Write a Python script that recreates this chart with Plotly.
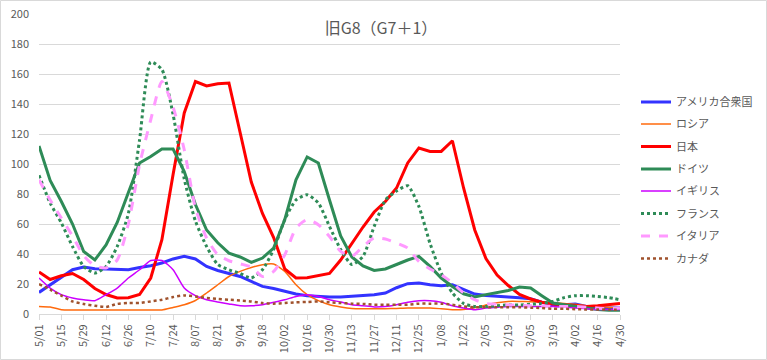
import plotly.graph_objects as go

dates = ["5/01","5/08","5/15","5/22","5/29","6/05","6/12","6/19","6/26","7/03","7/10","7/17","7/24","7/31",
         "8/07","8/14","8/21","8/28","9/04","9/11","9/18","9/25","10/02","10/09","10/16","10/23","10/30",
         "11/06","11/13","11/20","11/27","12/04","12/11","12/18","12/25","1/01","1/08","1/15","1/22","1/29",
         "2/05","2/12","2/19","2/26","3/05","3/12","3/19","3/26","4/02","4/09","4/16","4/23","4/30"]
tick_labels = dates[::2]

usa = [14.4, 19.5, 25, 29.5, 31.3, 30.2, 30, 29.5, 29.5, 31, 32.2, 34, 36.7, 38.4, 36.7, 31.7, 29, 27, 25, 21.7,
       18.4, 17, 15, 13.3, 12.2, 11.7, 11.3, 11.3, 11.7, 12, 12.9, 14, 17.5, 20.2, 20.7, 19.5, 18.9, 19.5, 16.2,
       13.3, 12.4, 11.7, 11.3, 10.9, 10.2, 7.8, 6.2, 6.2, 6.7, 5, 4.2, 4, 4]
russia = [5, 4.6, 2.9, 2.7, 2.7, 2.7, 2.7, 2.7, 2.7, 2.7, 2.7, 2.7, 4.4, 6.2, 9, 14, 19.5, 25, 28.4, 31, 32.9,
          33.3, 28.4, 19.5, 12.9, 8.9, 6.2, 4.7, 3.7, 3.5, 3.5, 3.5, 3.7, 4, 4, 4, 3.5, 2.9, 3, 4.2, 6, 7.5, 8.4,
          8.4, 8.2, 7.8, 7.5, 7, 6.5, 5.5, 5, 4.5, 4]
japan = [28, 23, 25.5, 27, 23, 17, 13, 10.7, 10.8, 13, 24, 49.5, 93, 134, 155, 152, 153.5, 154, 121, 88, 67,
         51, 30, 24, 24.2, 25.5, 27, 36, 47, 58, 68, 75, 84, 100.7, 110.7, 108.4, 108.4, 115.5, 84, 56, 37, 26,
         19, 13, 10, 7.8, 6.7, 6, 5.5, 5, 5.5, 6.5, 7]
germany = [112, 89, 75, 60, 41.7, 36, 46, 61, 81, 100.7, 105, 110, 110, 95, 73, 56, 47.5, 40.6, 38, 34.4, 37.3,
           44, 63, 89.5, 104.7, 100.7, 76, 52, 38, 32, 29, 30, 33, 36, 38.4, 31.7, 24, 18.4, 13.5, 11.3, 12.9,
           14.4, 15.7, 18, 17.3, 12.2, 7.3, 6.2, 5, 4, 3, 2.5, 2.5]
uk = [24, 17.3, 12.9, 10.7, 9.5, 8.9, 12.9, 17.3, 24, 29.5, 35.7, 35.7, 29.5, 17.3, 12.2, 9.5, 8, 6.7, 5.5, 5.5,
      6.2, 7.8, 9.5, 11.7, 12.9, 11.7, 9.5, 8, 6.2, 5.5, 4.7, 5, 6.2, 7.8, 8.9, 8.9, 7.8, 5.5, 4, 2.9, 4, 4.5, 5,
      5, 5, 5, 5, 4.5, 4, 3.5, 3, 3, 3]
france = [92.5, 74, 60.7, 45, 31.7, 27.3, 31.7, 45, 67, 116, 168, 163, 133, 90, 62, 45, 33, 29.5, 27, 24, 29.5,
          43, 63, 76, 79.5, 74, 58.4, 43, 33, 38.4, 58.4, 76, 82, 85.5, 71.7, 47, 27.3, 14, 7, 5, 5, 5.5, 6, 6,
          6.5, 7, 8.4, 10.9, 12.2, 12.2, 11.7, 10.9, 9.5]
italy = [89.5, 76, 64, 52, 39, 32, 30.7, 36, 60, 99.5, 129.5, 155, 138, 109.5, 70.7, 50.7, 39.5, 35.5, 33.5,
         31.3, 25, 28.4, 39.5, 57.3, 63, 59.5, 51.7, 41.7, 38.4, 45, 50.7, 50, 47.3, 44, 35, 30, 26.2, 20.7, 14,
         9.5, 7, 6.5, 6, 6, 5.5, 5.5, 5, 5, 5, 4.5, 4, 3.5, 4]
canada = [20, 16.2, 12.2, 8.4, 6.7, 5.5, 4.7, 6.7, 7.3, 7.3, 8.4, 9.5, 11.3, 12.4, 11.7, 10.7, 10, 9.5, 9, 8.4,
          7.3, 6.9, 7.3, 7.8, 8, 8.4, 7.8, 7.3, 6.9, 6.7, 6.2, 6.2, 6.2, 6.2, 6.9, 6.9, 6.9, 6.2, 5, 4.5, 4.5,
          4.5, 4.5, 4.5, 4.2, 4, 3.5, 3.5, 3.2, 3, 3, 2.9, 2.9]

series = [
    ("アメリカ合衆国", usa, dict(color="#3333FF", width=3), "linear"),
    ("ロシア", russia, dict(color="#FF6A0D", width=1.5), "spline"),
    ("日本", japan, dict(color="#FF0000", width=3), "linear"),
    ("ドイツ", germany, dict(color="#2E8B57", width=3), "linear"),
    ("イギリス", uk, dict(color="#CC00FF", width=1.5), "spline"),
    ("フランス", france, dict(color="#2E8B57", width=3, dash="dot"), "spline"),
    ("イタリア", italy, dict(color="#FF99FF", width=3, dash="dash"), "spline"),
    ("カナダ", canada, dict(color="#A0522D", width=2.5, dash="dot"), "spline"),
]

FONT = "Noto Sans CJK JP"
L, R, T, B = 39, 147, 14, 46
W, H = 767, 360
ph = H - T - B
pw = W - L - R
legend_px = [102, 124, 146.5, 169, 191, 213.5, 236, 258.5]

fig = go.Figure()
layout_legends = {}
for i, (name, vals, line, shape) in enumerate(series):
    lname = "legend" if i == 0 else f"legend{i+1}"
    fig.add_trace(go.Scatter(x=dates, y=vals, name=name, mode="lines",
                             line=dict(shape=shape, smoothing=0.6, **line), legend=lname))
    layout_legends[lname] = dict(
        x=(636 - L) / pw, xanchor="left",
        y=(H - B - legend_px[i]) / ph, yanchor="middle",
        font=dict(family=FONT, size=11, color="#595959"),
        bgcolor="rgba(0,0,0,0)", borderwidth=0,
    )

fig.update_layout(
    width=W, height=H,
    margin=dict(l=L, r=R, t=T, b=B, autoexpand=False),
    paper_bgcolor="white", plot_bgcolor="white",
    font=dict(family=FONT, color="#595959"),
    title=dict(text="旧G8（G7＋1）", x=(381 - L) / pw, xref="paper", xanchor="center",
               y=(H - B - 28) / ph, yref="paper", yanchor="middle",
               font=dict(family=FONT, size=16, color="#595959", weight="normal")),
    showlegend=True,
    **layout_legends,
)
fig.update_xaxes(type="category", categoryorder="array", categoryarray=dates, range=[0, len(dates) - 1],
                 tickmode="array", tickvals=tick_labels, ticktext=tick_labels, tickangle=-90,
                 showline=True, linecolor="#D9D9D9", linewidth=1, showgrid=False,
                 ticks="outside", ticklen=5, tickcolor="#D9D9D9", automargin=False,
                 tickfont=dict(family=FONT, size=11, color="#595959"))
fig.update_yaxes(range=[0, 200], dtick=20, showgrid=True, gridcolor="#D9D9D9", gridwidth=1,
                 zeroline=False, showline=False, ticks="", automargin=False, ticklabelstandoff=9,
                 tickfont=dict(family=FONT, size=11, color="#595959"))
fig.add_shape(type="rect", xref="paper", yref="paper",
              x0=(0.5 - L) / pw, x1=(W - 0.5 - L) / pw,
              y0=(H - B - (H - 0.5)) / ph, y1=(H - B - 0.5) / ph,
              line=dict(color="#D9D9D9", width=1), layer="below")

fig.write_html("out.html", config={"displayModeBar": False},
               post_script="document.body.style.margin='0px';")
